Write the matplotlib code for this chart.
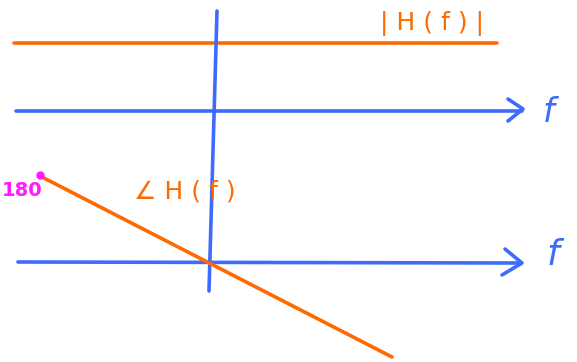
import matplotlib.pyplot as plt
import numpy as np

# sketch coordinates (pixel-like units, y grows downward)
mag_x = [14, 497]
mag_y = [43, 43]
axis1_x = [16, 522]
axis1_y = [111, 111]
axis2_x = [18, 521]
axis2_y = [262, 263]
vert_x = [217, 209]
vert_y = [11, 291]
phase_x = [40, 392]
phase_y = [176, 357]
arrow1_x = [508, 523, 508]
arrow1_y = [99, 109, 121]
arrow2_x = [505, 522, 502]
arrow2_y = [249, 263, 275]
marker_180 = (40, 175)

orange = '#ff6a00'
blue = '#3d6bff'
magenta = '#ff1aff'

fig = plt.figure(figsize=(5.77, 3.62), dpi=100)
axe = fig.add_axes([0, 0, 1, 1])
axe.set_xlim(0, 577)
axe.set_ylim(362, 0)
axe.axis('off')

lw = 2.6
axe.plot(mag_x, mag_y, color=orange, lw=lw, solid_capstyle='round')
axe.plot(axis1_x, axis1_y, color=blue, lw=lw, solid_capstyle='round')
axe.plot(axis2_x, axis2_y, color=blue, lw=lw, solid_capstyle='round')
axe.plot(vert_x, vert_y, color=blue, lw=lw, solid_capstyle='round')
axe.plot(arrow1_x, arrow1_y, color=blue, lw=lw, solid_capstyle='round', solid_joinstyle='round')
axe.plot(arrow2_x, arrow2_y, color=blue, lw=lw, solid_capstyle='round', solid_joinstyle='round')
axe.plot(phase_x, phase_y, color=orange, lw=lw, solid_capstyle='round')
axe.plot(*marker_180, 'o', color=magenta, ms=5)

#labels
axe.text(432, 24, '| H ( f ) |', color=orange, fontsize=18, ha='center', va='center')
axe.text(185, 192, '∠ H ( f )', color=orange, fontsize=18, ha='center', va='center')
axe.text(2, 190, '180', color=magenta, fontsize=14, fontweight='bold', ha='left', va='center')
axe.text(549, 112, 'f', color=blue, fontsize=24, style='italic', ha='center', va='center')
axe.text(553, 255, 'f', color=blue, fontsize=26, style='italic', ha='center', va='center')

fig.savefig('out.png', dpi=100)
